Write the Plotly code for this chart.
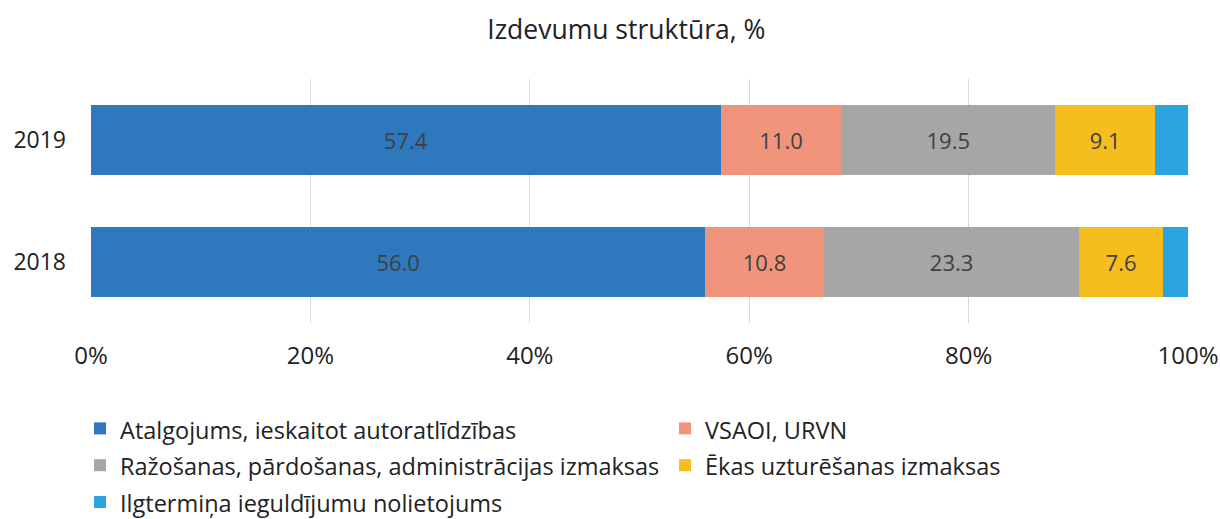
import plotly.graph_objects as go

years = ["2018", "2019"]
series_names = [
    "Atalgojums, ieskaitot autoratlīdzības",
    "VSAOI, URVN",
    "Ražošanas, pārdošanas, administrācijas izmaksas",
    "Ēkas uzturēšanas izmaksas",
    "Ilgtermiņa ieguldījumu nolietojums",
]
atalgojums = [56.0, 57.4]
vsaoi = [10.8, 11.0]
razosanas = [23.3, 19.5]
ekas = [7.6, 9.1]
nolietojums = [2.3, 3.0]
tick_vals = [0, 20, 40, 60, 80, 100]
tick_text = ["0%", "20%", "40%", "60%", "80%", "100%"]

colors = ["#2E78BE", "#F0957C", "#A6A6A6", "#F6BD1E", "#2BA4E0"]
show_labels = [True, True, True, True, False]
values = [atalgojums, vsaoi, razosanas, ekas, nolietojums]

FONT = "Open Sans"
TXT = "#222222"
fig = go.Figure()
for name, vals, col, lab in zip(series_names, values, colors, show_labels):
    fig.add_trace(go.Bar(
        y=years, x=vals, orientation="h",
        name=f'<span style="font-size:23.5px">{name}</span>',
        marker=dict(color=col, line=dict(width=0)),
        width=0.57,
        text=[f"{v:.1f}" for v in vals] if lab else None,
        textposition="inside" if lab else "none",
        insidetextanchor="middle",
        textfont=dict(family=FONT, size=22, color="#404040"),
    ))

fig.update_layout(
    barmode="stack",
    width=1220, height=519,
    paper_bgcolor="white", plot_bgcolor="white",
    margin=dict(l=91, r=32, t=79, b=196, autoexpand=False),
    title=dict(text="Izdevumu struktūra, %", xref="paper", x=0.488, xanchor="center",
               yref="container", y=0.942, yanchor="middle",
               font=dict(family=FONT, size=26.5, color=TXT)),
    font=dict(family=FONT, size=22, color=TXT),
    xaxis=dict(range=[0, 100], tickvals=tick_vals, ticktext=tick_text, showgrid=True,
               gridcolor="#D9D9D9", gridwidth=1, zeroline=False, showline=False, ticks="",
               tickfont=dict(family=FONT, size=24, color=TXT), ticklabelstandoff=16),
    yaxis=dict(range=[-0.5, 1.5], showgrid=False, zeroline=False, ticks="",
               tickfont=dict(family=FONT, size=23, color=TXT), ticklabelstandoff=24),
    legend=dict(orientation="h", x=-0.010, xanchor="left", y=-0.336, yanchor="top",
                traceorder="normal", entrywidth=540, entrywidthmode="pixels",
                font=dict(family=FONT, size=26, color=TXT), itemwidth=30),
    showlegend=True,
)
fig.write_html("out.html", config={"displayModeBar": False},
               post_script="document.body.style.margin='0';document.body.style.overflow='hidden';")
